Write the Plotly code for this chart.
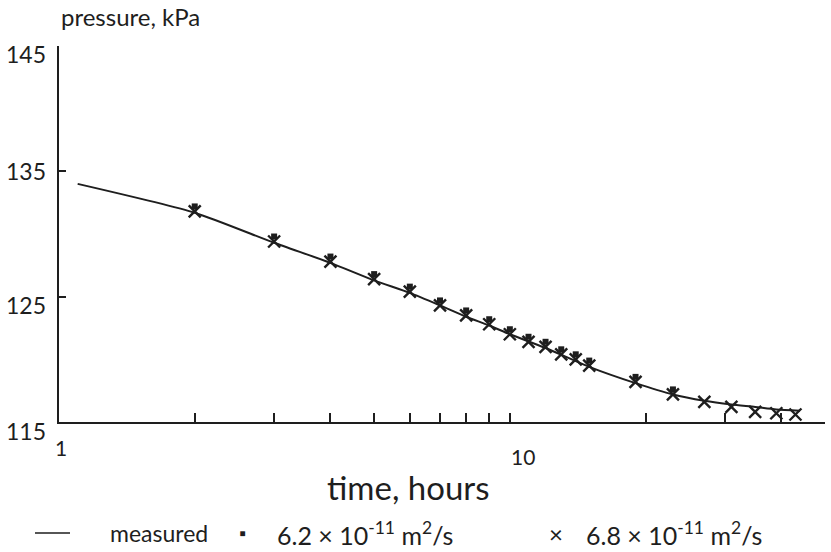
import math
import plotly.graph_objects as go

# ---- data ----
hours = [2, 3, 4, 5, 6, 7, 8, 9, 10, 11, 12, 13, 14, 15, 19, 23, 27, 31, 35, 39, 43]
p_68 = [131.8, 129.4, 127.8, 126.4, 125.4, 124.3, 123.5, 122.8, 122.0, 121.4, 121.0,
        120.4, 120.0, 119.5, 118.2, 117.2, 116.6, 116.2, 115.8, 115.7, 115.6]
hours_62 = [2, 3, 4, 5, 6, 7, 8, 9, 10, 11, 12, 13, 14, 15, 19, 23]
p_62 = [132.2, 129.8, 128.2, 126.8, 125.8, 124.7, 123.9, 123.2, 122.4, 121.8, 121.4,
        120.8, 120.4, 119.9, 118.6, 117.6]
time_meas = [1.1, 2, 3, 4, 5, 6, 7, 8, 9, 10, 12, 15, 19, 23, 27, 31, 35, 39, 44]
p_meas = [134.0, 131.7, 129.3, 127.7, 126.3, 125.3, 124.3, 123.4, 122.7, 122.0, 120.9,
          119.4, 118.1, 117.2, 116.7, 116.4, 116.2, 116.0, 115.9]
x_ticks = [1, 2, 3, 4, 5, 6, 7, 8, 9, 10, 20, 30, 40, 50]
y_ticks = [115, 125, 135, 145]
x_labels = [1, 10]

W, H = 831, 552
L, R, T, B = 59, 6, 46, 130
pw, ph = W - L - R, H - T - B
FONT = "Lato, 'Open Sans', sans-serif"
INK = "#1e1e1e"

def px(xp):
    return (xp - L) / pw

def py(yp):
    return (H - B - yp) / ph

fig = go.Figure()
fig.add_trace(go.Scatter(x=time_meas, y=p_meas, mode="lines",
                         line=dict(color=INK, width=2, shape="spline", smoothing=0.6),
                         showlegend=False, hoverinfo="skip"))
fig.add_trace(go.Scatter(x=hours_62, y=p_62, mode="markers",
                         marker=dict(symbol="square", size=6, color=INK), showlegend=False))
fig.add_trace(go.Scatter(x=hours, y=p_68, mode="markers",
                         marker=dict(symbol="x-thin", size=12, line=dict(color=INK, width=2.4)),
                         showlegend=False))

annotations = []
# y tick labels
yshifts = {115: -9, 125: -8, 135: 0, 145: -8}
for v in y_ticks:
    annotations.append(dict(x=px(48), y=v, xref="paper", yref="y", text=str(v), showarrow=False,
                            xanchor="right", yanchor="middle", yshift=yshifts[v],
                            font=dict(family=FONT, size=23, color=INK)))
# x tick labels (log axis: annotation x given in log10 units)
xshifts = {1: 2, 10: 13}
ylab = {1: 447, 10: 456}
for v in x_labels:
    annotations.append(dict(x=math.log10(v), y=py(ylab[v]), xref="x", yref="paper", text=str(v),
                            showarrow=False, xanchor="center", yanchor="middle", xshift=xshifts[v],
                            font=dict(family=FONT, size=21, color=INK)))
# axis titles
annotations.append(dict(x=px(59), y=py(17), xref="paper", yref="paper", text="pressure, kPa",
                        showarrow=False, xanchor="left", yanchor="middle",
                        font=dict(family=FONT, size=24, color=INK)))
annotations.append(dict(x=px(408), y=py(487), xref="paper", yref="paper", text="time, hours",
                        showarrow=False, xanchor="center", yanchor="middle",
                        font=dict(family=FONT, size=33, color=INK)))
# legend
leg_y = py(533)
annotations.append(dict(x=px(108), y=leg_y, xref="paper", yref="paper", text="measured",
                        showarrow=False, xanchor="left", yanchor="middle",
                        font=dict(family=FONT, size=23, color=INK)))
annotations.append(dict(x=px(242), y=leg_y, xref="paper", yref="paper", text="▪",
                        showarrow=False, xanchor="center", yanchor="middle",
                        font=dict(family=FONT, size=18, color=INK)))
annotations.append(dict(x=px(275), y=leg_y, xref="paper", yref="paper",
                        text="6.2 × 10<sup>-11</sup> m<sup>2</sup>/s",
                        showarrow=False, xanchor="left", yanchor="middle",
                        font=dict(family=FONT, size=25, color=INK)))
annotations.append(dict(x=px(556), y=leg_y, xref="paper", yref="paper", text="×",
                        showarrow=False, xanchor="center", yanchor="middle",
                        font=dict(family=FONT, size=24, color=INK)))
annotations.append(dict(x=px(584), y=leg_y, xref="paper", yref="paper",
                        text="6.8 × 10<sup>-11</sup> m<sup>2</sup>/s",
                        showarrow=False, xanchor="left", yanchor="middle",
                        font=dict(family=FONT, size=25, color=INK)))

shapes = [dict(type="line", xref="paper", yref="paper", x0=px(35), x1=px(70), y0=leg_y, y1=leg_y,
               line=dict(color=INK, width=1.5))]

fig.update_layout(
    width=W, height=H,
    margin=dict(l=L, r=R, t=T, b=B),
    paper_bgcolor="white", plot_bgcolor="white",
    annotations=annotations, shapes=shapes,
    xaxis=dict(type="log", range=[0, 1.699], showgrid=False, zeroline=False,
               showline=True, linecolor=INK, linewidth=2,
               ticks="inside", ticklen=9, tickwidth=2, tickcolor=INK,
               tickvals=x_ticks, showticklabels=False),
    yaxis=dict(range=[115, 145], showgrid=False, zeroline=False,
               showline=True, linecolor=INK, linewidth=2,
               ticks="inside", ticklen=7, tickwidth=2, tickcolor=INK,
               tickvals=y_ticks, showticklabels=False),
)

fig.write_html("out.html")
